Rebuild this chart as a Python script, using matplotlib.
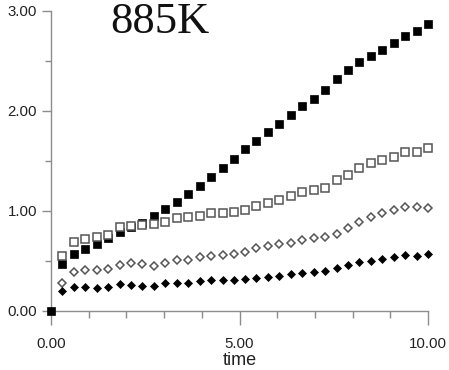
import numpy as np
import matplotlib as mpl
mpl.use("agg")
import matplotlib.pyplot as plt
from matplotlib.ticker import MultipleLocator, FormatStrFormatter


# time axis, (0, 0) start point then 33 samples
time = [0.30, 0.61, 0.91, 1.21, 1.52, 1.82, 2.12, 2.42, 2.73, 3.03, 3.33,
        3.64, 3.94, 4.24, 4.55, 4.85, 5.15, 5.45, 5.76, 6.06, 6.36, 6.67,
        6.97, 7.27, 7.58, 7.88, 8.18, 8.48, 8.79, 9.09, 9.39, 9.70, 10.00]

filled_sq = [0.47, 0.57, 0.62, 0.67, 0.73, 0.79, 0.84, 0.88, 0.95, 1.02, 1.09,
             1.17, 1.25, 1.34, 1.43, 1.52, 1.62, 1.70, 1.79, 1.87, 1.96, 2.05,
             2.12, 2.21, 2.32, 2.41, 2.49, 2.55, 2.61, 2.68, 2.75, 2.80, 2.87]

open_sq = [0.55, 0.69, 0.72, 0.74, 0.76, 0.84, 0.85, 0.86, 0.87, 0.89, 0.93,
           0.94, 0.95, 0.98, 0.98, 0.99, 1.01, 1.05, 1.08, 1.11, 1.15, 1.19,
           1.21, 1.23, 1.31, 1.36, 1.43, 1.48, 1.51, 1.54, 1.59, 1.59, 1.63]

open_dia = [0.28, 0.39, 0.41, 0.41, 0.42, 0.46, 0.48, 0.47, 0.45, 0.48, 0.51,
            0.51, 0.54, 0.55, 0.56, 0.57, 0.59, 0.63, 0.65, 0.67, 0.68, 0.71,
            0.73, 0.74, 0.77, 0.83, 0.89, 0.94, 0.98, 1.01, 1.04, 1.04, 1.03]

filled_dia = [0.20, 0.24, 0.24, 0.23, 0.24, 0.27, 0.26, 0.25, 0.25, 0.28, 0.28,
              0.28, 0.30, 0.31, 0.31, 0.31, 0.32, 0.33, 0.34, 0.35, 0.37, 0.38,
              0.39, 0.40, 0.43, 0.46, 0.49, 0.50, 0.52, 0.54, 0.56, 0.55, 0.57]

origin_t = [0.0]
origin_v = [0.0]

title = "885K"
xlabel = "time"

plt.rcParams["font.family"] = ["Liberation Sans", "DejaVu Sans"]

AXIS_GRAY = "#8c8c8c"
EDGE_GRAY = "#555555"

fig = plt.figure(figsize=(4.49, 3.70), dpi=100)
ax = fig.add_axes([51 / 449, 1 - 311 / 370, 377 / 449, 300 / 370])

ax.plot(time, filled_sq, ls="none", marker="s", ms=5.6, mfc="black", mec="black",
        mew=0.5, clip_on=False)
ax.plot(time, open_sq, ls="none", marker="s", ms=5.5, mfc="white", mec=EDGE_GRAY,
        mew=1.1, clip_on=False)
ax.plot(time, open_dia, ls="none", marker="D", ms=3.7, mfc="white", mec=EDGE_GRAY,
        mew=1.1, clip_on=False)
ax.plot(time, filled_dia, ls="none", marker="D", ms=3.9, mfc="black", mec="black",
        mew=0.5, clip_on=False)
ax.plot(origin_t, origin_v, ls="none", marker="s", ms=5.6, mfc="black", mec="black",
        mew=0.5, clip_on=False, zorder=5)

ax.set_xlim(0, 10)
ax.set_ylim(0, 3)

for side in ("top", "right"):
    ax.spines[side].set_visible(False)
for side in ("left", "bottom"):
    ax.spines[side].set_color(AXIS_GRAY)
    ax.spines[side].set_linewidth(1.0)

ax.xaxis.set_major_locator(MultipleLocator(5))
ax.xaxis.set_minor_locator(MultipleLocator(1))
ax.yaxis.set_major_locator(MultipleLocator(1))
ax.yaxis.set_minor_locator(MultipleLocator(0.5))
ax.xaxis.set_major_formatter(FormatStrFormatter("%.2f"))
ax.yaxis.set_major_formatter(FormatStrFormatter("%.2f"))

ax.tick_params(axis="both", which="both", direction="out", color=AXIS_GRAY,
               width=1.0, labelsize=10.8, labelcolor="#222222")
ax.tick_params(axis="y", which="major", length=6.5, pad=3.5)
ax.tick_params(axis="y", which="minor", length=4.3)
ax.tick_params(axis="x", which="major", length=10, pad=8.5)
ax.tick_params(axis="x", which="minor", length=5)

ax.set_xlabel(xlabel, fontsize=13, labelpad=1, color="#222222")

fig.text(160 / 449, 1 - 33 / 370, title, ha="center", va="baseline",
         fontsize=32, family=["Liberation Serif", "DejaVu Serif"], color="#111111")

fig.savefig("out.png", dpi=100)
